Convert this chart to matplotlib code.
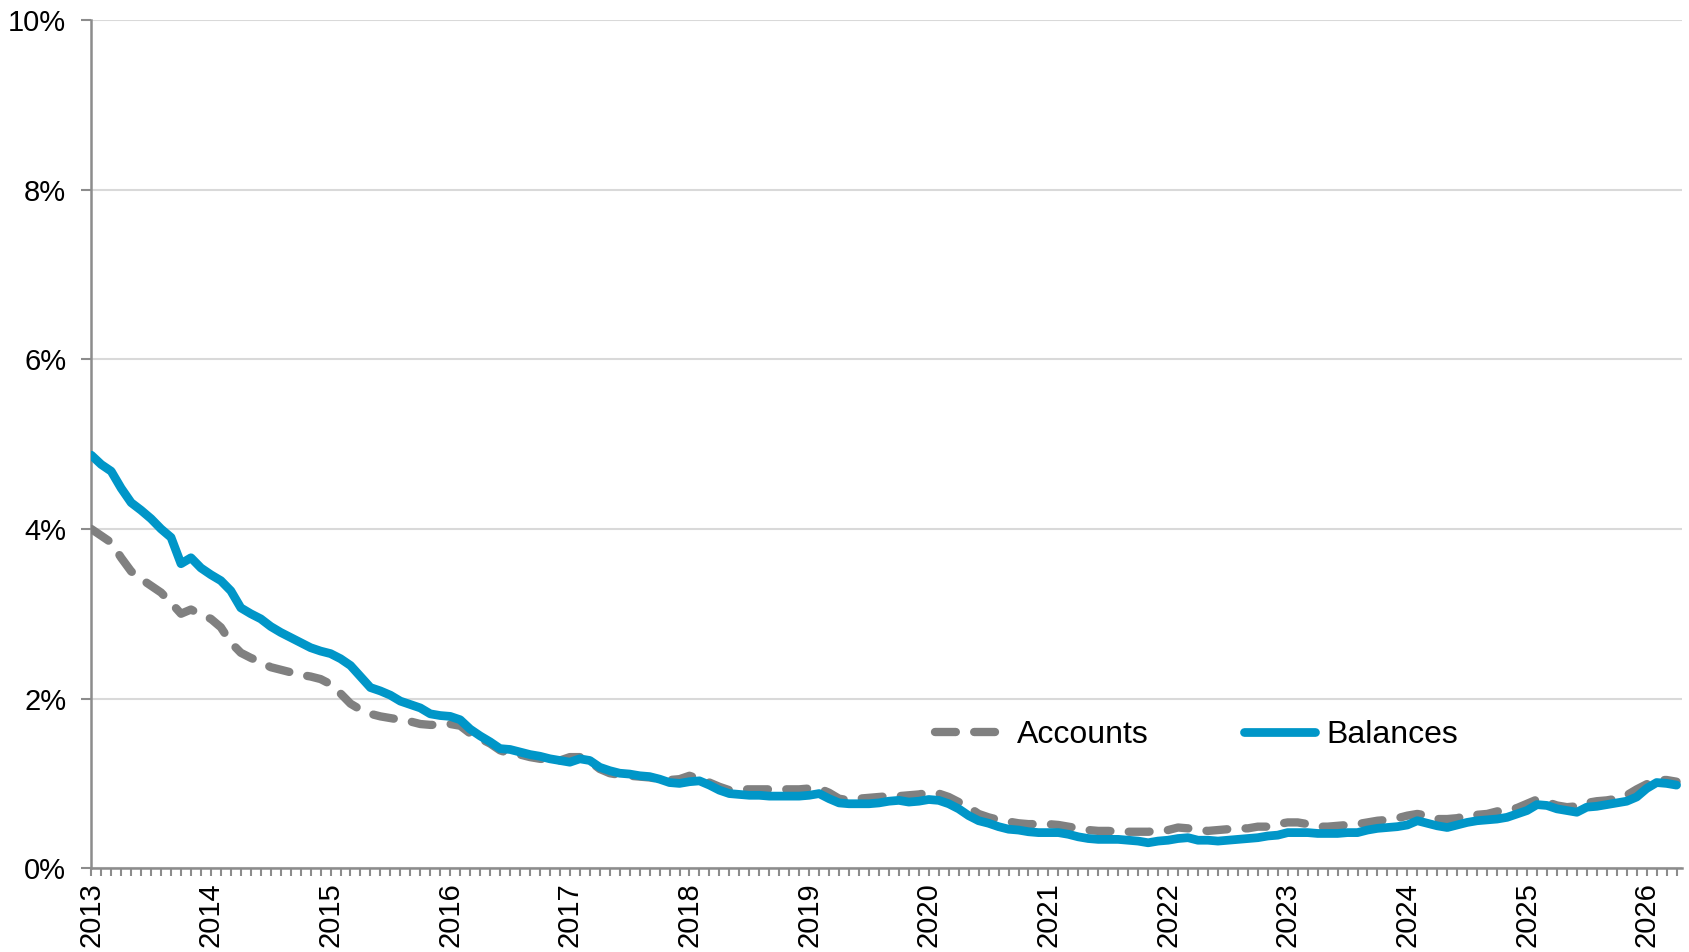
import matplotlib.pyplot as plt
import numpy as np

plt.rcParams['font.family'] = ['Liberation Sans', 'DejaVu Sans']

# monthly rates in %, Jan 2013 .. Apr 2026
balances = [4.87, 4.76, 4.68, 4.48, 4.31, 4.22, 4.12, 4.00, 3.90, 3.59, 3.66, 3.54,
            3.46, 3.39, 3.27, 3.07, 3.00, 2.94, 2.85, 2.78, 2.72, 2.66, 2.60, 2.56,
            2.53, 2.47, 2.39, 2.26, 2.13, 2.09, 2.04, 1.97, 1.93, 1.89, 1.82, 1.80,
            1.79, 1.75, 1.64, 1.56, 1.49, 1.41, 1.40, 1.37, 1.34, 1.32, 1.29, 1.27,
            1.25, 1.29, 1.27, 1.19, 1.15, 1.12, 1.11, 1.09, 1.08, 1.05, 1.01, 1.00,
            1.02, 1.03, 0.98, 0.92, 0.88, 0.87, 0.86, 0.86, 0.85, 0.85, 0.85, 0.85,
            0.86, 0.88, 0.82, 0.77, 0.76, 0.76, 0.76, 0.77, 0.79, 0.80, 0.78, 0.79,
            0.81, 0.80, 0.76, 0.70, 0.62, 0.56, 0.53, 0.49, 0.46, 0.45, 0.43, 0.42,
            0.42, 0.42, 0.40, 0.37, 0.35, 0.34, 0.34, 0.34, 0.33, 0.32, 0.30, 0.32,
            0.33, 0.35, 0.36, 0.33, 0.33, 0.32, 0.33, 0.34, 0.35, 0.36, 0.38, 0.39,
            0.42, 0.42, 0.42, 0.41, 0.41, 0.41, 0.42, 0.42, 0.45, 0.47, 0.48, 0.49,
            0.51, 0.56, 0.53, 0.50, 0.48, 0.51, 0.54, 0.56, 0.57, 0.58, 0.60, 0.64,
            0.68, 0.75, 0.74, 0.70, 0.68, 0.66, 0.72, 0.73, 0.75, 0.77, 0.79, 0.84,
            0.94, 1.01, 1.00, 0.98]

accounts = [4.00, 3.92, 3.84, 3.66, 3.50, 3.41, 3.33, 3.25, 3.13, 3.00, 3.05, 2.99,
            2.94, 2.84, 2.66, 2.54, 2.48, 2.43, 2.37, 2.34, 2.31, 2.28, 2.26, 2.23,
            2.17, 2.06, 1.94, 1.87, 1.82, 1.79, 1.77, 1.75, 1.73, 1.70, 1.69, 1.69,
            1.70, 1.68, 1.59, 1.53, 1.47, 1.39, 1.35, 1.34, 1.31, 1.29, 1.28, 1.27,
            1.31, 1.31, 1.26, 1.17, 1.12, 1.10, 1.09, 1.08, 1.07, 1.05, 1.04, 1.05,
            1.09, 1.05, 1.01, 0.96, 0.92, 0.93, 0.93, 0.93, 0.93, 0.93, 0.93, 0.93,
            0.94, 0.94, 0.89, 0.82, 0.80, 0.82, 0.83, 0.84, 0.85, 0.85, 0.86, 0.87,
            0.89, 0.88, 0.84, 0.78, 0.72, 0.64, 0.60, 0.57, 0.55, 0.53, 0.52, 0.52,
            0.52, 0.51, 0.49, 0.47, 0.45, 0.44, 0.44, 0.43, 0.43, 0.43, 0.43, 0.44,
            0.45, 0.48, 0.47, 0.45, 0.44, 0.45, 0.46, 0.47, 0.47, 0.49, 0.49, 0.52,
            0.54, 0.54, 0.52, 0.49, 0.49, 0.50, 0.51, 0.52, 0.54, 0.56, 0.57, 0.59,
            0.62, 0.64, 0.62, 0.58, 0.58, 0.59, 0.62, 0.63, 0.64, 0.67, 0.68, 0.71,
            0.76, 0.81, 0.78, 0.74, 0.72, 0.73, 0.77, 0.79, 0.80, 0.82, 0.86, 0.93,
            0.99, 1.04, 1.04, 1.02]

years = list(range(2013, 2027))

x = np.arange(len(balances))

fig = plt.figure(figsize=(16.9, 9.52), dpi=100)
ax = fig.add_axes([0.054, 0.088, 0.941, 0.891])

ax.plot(x, accounts, color='#808080', linewidth=6, linestyle=(0, (2.5, 2.2)),
        dash_capstyle='round', label='Accounts', zorder=3)
ax.plot(x, balances, color='#0096C8', linewidth=6.3, solid_capstyle='round',
        solid_joinstyle='round', label='Balances', zorder=4)

ax.set_xlim(0, 159.5)
ax.set_ylim(0, 10)
ax.set_yticks(np.arange(0, 11, 2))
ax.set_yticklabels([str(v) + '%' for v in range(0, 11, 2)])
ax.set_xticks([12 * i for i in range(len(years))])
ax.set_xticklabels([str(y) for y in years], rotation=90)
ax.set_xticks(np.arange(0, 160, 1), minor=True)

ax.grid(axis='y', color='#d9d9d9', linewidth=1.5)
ax.set_axisbelow(True)
for s in ['top', 'right']:
    ax.spines[s].set_visible(False)
for s in ['left', 'bottom']:
    ax.spines[s].set_color('#8c8c8c')
    ax.spines[s].set_linewidth(1.8)

ax.tick_params(axis='both', which='both', direction='out', color='#8c8c8c', width=1.5,
               labelsize=21, labelcolor='black')
ax.tick_params(axis='x', which='both', length=6, pad=4)
ax.tick_params(axis='y', length=7, pad=11)

ax.legend(loc='center', bbox_to_anchor=(0.695, 0.157), ncol=2, frameon=False, fontsize=23,
          handlelength=2.2, handletextpad=0.35, columnspacing=3.0)

plt.savefig('out.png')
